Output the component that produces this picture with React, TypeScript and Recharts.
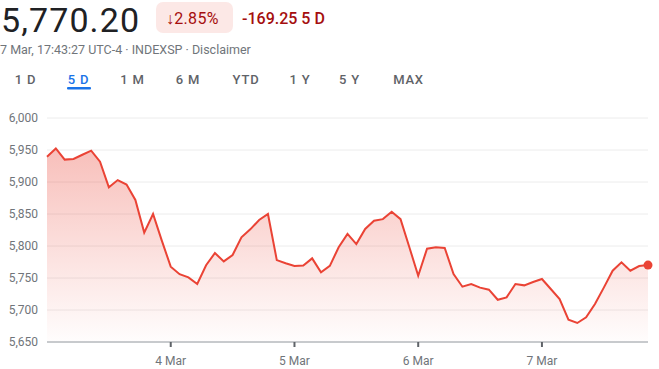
import {
  ComposedChart,
  Area,
  XAxis,
  YAxis,
  CartesianGrid,
  ReferenceDot,
} from "recharts";

// 30-minute closes, one list per trading day
const mar3 = [5939.5, 5952.5, 5935, 5936, 5942.6, 5949, 5931.7, 5891.6, 5903, 5896, 5872, 5821, 5850, 5808];
const mar4 = [5767.7, 5756, 5751, 5740.6, 5770, 5789, 5776, 5786, 5813.5, 5826, 5840.6, 5850, 5778, 5773];
const mar5 = [5768.7, 5769.5, 5780.7, 5759, 5769, 5798, 5819, 5803, 5826.6, 5839.5, 5842, 5853.6, 5842, 5798];
const mar6 = [5753.6, 5795.8, 5798, 5797, 5756, 5736.4, 5740.6, 5735, 5731.7, 5716, 5719.7, 5740.6, 5738.5, 5743.7];
const mar7 = [5748.4, 5732.8, 5717, 5684.8, 5679.7, 5688.5, 5709.4, 5735, 5761.4, 5774.4, 5761.4, 5768.7, 5770.2];

const dayLabels = ["4 Mar", "5 Mar", "6 Mar", "7 Mar"];
const yTicks = [5650, 5700, 5750, 5800, 5850, 5900, 5950, 6000];
const tabs = ["1 D", "5 D", "1 M", "6 M", "YTD", "1 Y", "5 Y", "MAX"];
const tabCenters = [25.5, 78.5, 132.5, 188, 246, 300, 349.5, 408.5];

const days = [mar3, mar4, mar5, mar6, mar7];
const data = days.flat().map((v, i) => ({ i, v }));
// day boundaries = first point of each day after the first
const dayStarts: number[] = [];
days.reduce((acc, d, k) => {
  if (k > 0) dayStarts.push(acc);
  return acc + d.length;
}, 0);
const last = data[data.length - 1];

const RED = "#ea4335";
const FONT = "Roboto, sans-serif";

export default function App() {
  return (
    <div style={{ position: "absolute", left: 0, top: 0, width: 659, height: 369, background: "#fff", fontFamily: FONT }}>
      <ComposedChart
        width={659}
        height={369}
        data={data}
        margin={{ top: 118, right: 11, bottom: 0, left: 0 }}
      >
        <defs>
          <linearGradient id="fillRed" x1="0" y1="0" x2="0" y2="1">
            <stop offset="0%" stopColor={RED} stopOpacity={0.34} />
            <stop offset="100%" stopColor={RED} stopOpacity={0.01} />
          </linearGradient>
        </defs>
        <CartesianGrid vertical={false} stroke="#ececec" />
        <XAxis
          dataKey="i"
          type="number"
          domain={[0, data.length - 1]}
          ticks={dayStarts}
          tickFormatter={(v) => dayLabels[dayStarts.indexOf(v)] ?? ""}
          height={27}
          tickSize={5}
          tickMargin={9}
          axisLine={{ stroke: "#9aa0a6" }}
          tickLine={{ stroke: "#5f6368", strokeWidth: 2 }}
          tick={{ fill: "#70757a", fontSize: 12, fontFamily: FONT }}
        />
        <YAxis
          domain={[5650, 6000]}
          ticks={yTicks}
          width={47}
          axisLine={false}
          tickLine={false}
          tickMargin={3}
          tickFormatter={(v) => v.toLocaleString("en-US")}
          tick={{ fill: "#70757a", fontSize: 12, fontFamily: FONT }}
        />
        <Area
          type="linear"
          dataKey="v"
          stroke={RED}
          strokeWidth={2}
          fill="url(#fillRed)"
          fillOpacity={1}
          dot={false}
          activeDot={false}
          isAnimationActive={false}
        />
        <ReferenceDot x={last.i} y={last.v} r={4.5} fill={RED} stroke="none" />
      </ComposedChart>

      <svg width={659} height={100} style={{ position: "absolute", left: 0, top: 0 }} fontFamily={FONT}>
        <text x={1} y={31.6} fontSize={34} letterSpacing={1.1} fill="#202124">5,770.20</text>
        <rect x={156} y={2} width={77} height={31} rx={7} fill="#fce8e6" />
        <text x={166} y={24} fontSize={16} fill="#a50e0e" letterSpacing={0.3}>↓2.85%</text>
        <text x={242} y={24} fontSize={16} fontWeight={500} fill="#a50e0e">-169.25 5 D</text>
        <text x={0} y={54} fontSize={12.5} fill="#70757a">7 Mar, 17:43:27 UTC-4 · INDEXSP · Disclaimer</text>
        {tabs.map((t, k) => (
          <text
            key={t}
            x={tabCenters[k]}
            y={83.5}
            fontSize={13}
            fontWeight={500}
            letterSpacing={0.8}
            textAnchor="middle"
            fill={k === 1 ? "#1a73e8" : "#5f6368"}
          >
            {t}
          </text>
        ))}
        <rect x={67} y={87} width={24} height={2.5} rx={1} fill="#1a73e8" />
      </svg>
    </div>
  );
}
